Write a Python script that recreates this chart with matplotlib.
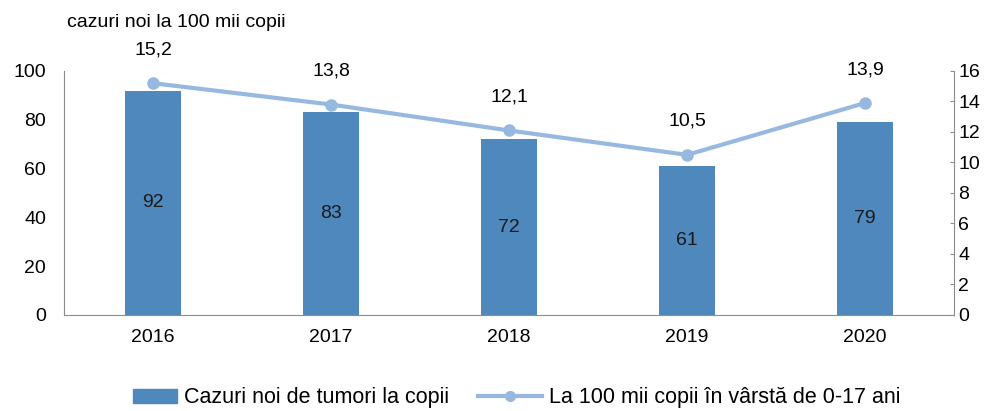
import matplotlib
matplotlib.use('Agg')
import matplotlib.pyplot as plt
from matplotlib.lines import Line2D
from matplotlib.patches import Patch, Rectangle
from matplotlib.legend_handler import HandlerPatch

years = ['2016', '2017', '2018', '2019', '2020']
cases = [92, 83, 72, 61, 79]
rate = [15.2, 13.8, 12.1, 10.5, 13.9]
rate_labels = ['15,2', '13,8', '12,1', '10,5', '13,9']

BAR = '#4f88bd'
LINE = '#97b9e0'
AX = '#8c8c8c'
plt.rcParams.update({'font.family': 'Liberation Sans', 'font.size': 14})

fig = plt.figure(figsize=(9.95, 4.11), dpi=100)
ax = fig.add_axes([0.0643, 0.2336, 0.8945, 0.5937])
x = list(range(len(years)))
ax.bar(x, cases, width=0.31, color=BAR, zorder=2)
for xi, v in zip(x, cases):
    ax.text(xi, v / 2, str(v), ha='center', va='center', fontsize=14, color='#1a1a1a', zorder=3)
ax.set_xlim(-0.5, 4.5); ax.set_ylim(0, 100)
ax.set_yticks(range(0, 101, 20))
ax.set_xticks(x); ax.set_xticklabels(years)
ax.tick_params(axis='y', length=0, pad=13)
ax.tick_params(axis='x', length=0, pad=10)
for s in ['top', 'right']: ax.spines[s].set_visible(False)
for s in ['left', 'bottom']: ax.spines[s].set_color(AX)

ax2 = ax.twinx()
ax2.plot(x, rate, color=LINE, linewidth=3, marker='o', markersize=8, zorder=4)
for xi, v, l in zip(x, rate, rate_labels):
    ax2.annotate(l, (xi, v), xytext=(0, 18), textcoords='offset points', ha='center', va='bottom', fontsize=14)
ax2.set_ylim(0, 16); ax2.set_yticks(range(0, 17, 2))
ax2.tick_params(axis='y', direction='in', length=3, color=AX, pad=3)
for s in ['top', 'left', 'bottom']: ax2.spines[s].set_visible(False)
ax2.spines['right'].set_color(AX)

fig.text(0.067, 0.945, 'cazuri noi la 100 mii copii', fontsize=14, va='center')

# bar swatch narrower than the line handle, right-aligned to its text
def short_patch(legend, orig_handle, xdescent, ydescent, width, height, fontsize):
    w = width * 0.69
    return Rectangle((width - w - xdescent, -ydescent), w, height)

handles = [Patch(color=BAR), Line2D([0], [0], color=LINE, linewidth=3, marker='o', markersize=7)]
fig.legend(handles, ['Cazuri noi de tumori la copii', 'La 100 mii copii în vârstă de 0-17 ani'],
           loc='center', bbox_to_anchor=(0.509, 0.032), ncol=2, frameon=False, fontsize=15.5,
           handlelength=3.0, handleheight=0.6, columnspacing=1.35, handletextpad=0.3,
           handler_map={Patch: HandlerPatch(patch_func=short_patch)})
plt.savefig('out.png', dpi=100)
